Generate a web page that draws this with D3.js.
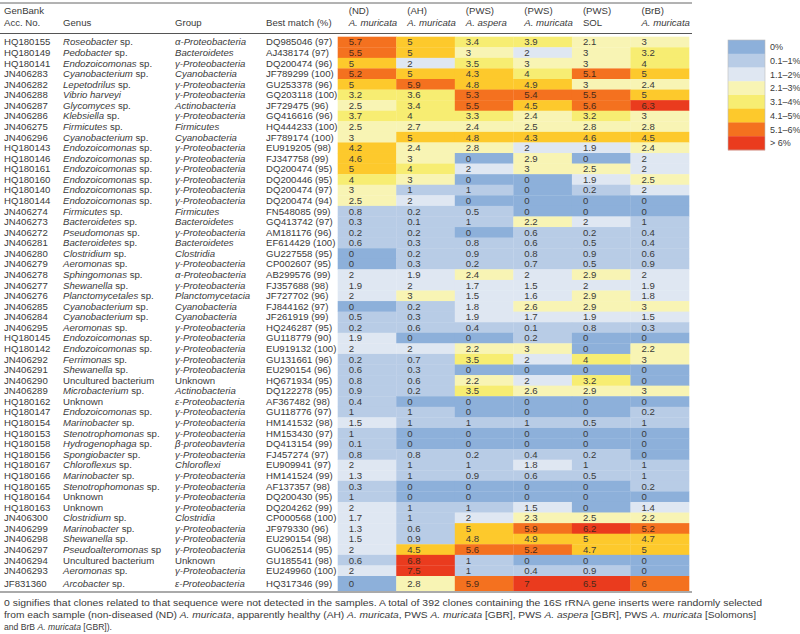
<!DOCTYPE html>
<html><head><meta charset="utf-8">
<script src="https://cdn.jsdelivr.net/npm/d3@7"></script>
<style>body{margin:0;background:#fff}svg{display:block;font-family:"Liberation Sans",Arial,sans-serif}</style>
</head><body><svg id="c" width="800" height="634"></svg>
<script>
const accessions=["HQ180155","HQ180149","HQ180141","JN406283","JN406282","JN406288","JN406287","JN406286","JN406275","JN406296","HQ180143","HQ180146","HQ180161","HQ180160","HQ180140","HQ180144","JN406274","JN406273","JN406272","JN406281","JN406280","JN406279","JN406278","JN406277","JN406276","JN406285","JN406284","JN406295","HQ180145","HQ180142","JN406292","JN406291","JN406290","JN406289","HQ180162","HQ180147","HQ180154","HQ180153","HQ180158","HQ180156","HQ180167","HQ180166","HQ180165","HQ180164","HQ180163","JN406300","JN406299","JN406298","JN406297","JN406294","JN406293","JF831360"];
// genus: [italic part, plain part]
const genera=[["Roseobacter"," sp."],["Pedobacter"," sp."],["Endozoicomonas"," sp."],["Cyanobacterium"," sp."],["Lepetodrilus"," sp."],["Vibrio harveyi",""],["Glycomyces"," sp."],["Klebsiella"," sp."],["Firmicutes"," sp."],["Cyanobacterium"," sp."],["Endozoicomonas"," sp."],["Endozoicomonas"," sp."],["Endozoicomonas"," sp."],["Endozoicomonas"," sp."],["Endozoicomonas"," sp."],["Endozoicomonas"," sp."],["Firmicutes"," sp."],["Bacteroidetes"," sp."],["Pseudomonas"," sp."],["Bacteroidetes"," sp."],["Clostridium"," sp."],["Aeromonas"," sp."],["Sphingomonas"," sp."],["Shewanella"," sp."],["Planctomycetales"," sp."],["Cyanobacterium"," sp."],["Cyanobacterium"," sp."],["Aeromonas"," sp."],["Endozoicomonas"," sp."],["Endozoicomonas"," sp."],["Ferrimonas"," sp."],["Shewanella"," sp."],["","Uncultured bacterium"],["Microbacterium"," sp."],["","Unknown"],["Endozoicomonas"," sp."],["Marinobacter"," sp."],["Stenotrophomonas"," sp."],["Hydrogenophaga"," sp."],["Spongiobacter"," sp."],["Chloroflexus"," sp."],["Marinobacter"," sp."],["Stenotrophomonas"," sp."],["","Unknown"],["","Unknown"],["Clostridium"," sp."],["Marinobacter"," sp."],["Shewanella"," sp."],["Pseudoalteromonas"," sp"],["","Uncultured bacterium"],["Aeromonas"," sp."],["Arcobacter"," sp."]];
const G="γ-Proteobacteria";
const groups=["α-Proteobacteria","Bacteroidetes",G,"Cyanobacteria",G,G,"Actinobacteria",G,"Firmicutes","Cyanobacteria",G,G,G,G,G,G,"Firmicutes","Bacteroidetes",G,"Bacteroidetes","Clostridia",G,"α-Proteobacteria",G,"Planctomycetacia","Cyanobacteria","Cyanobacteria",G,G,G,G,G,"Unknown","Actinobacteria","ε-Proteobacteria",G,G,G,"β-proteobavteria",G,"Chloroflexi",G,G,G,G,"Clostridia",G,G,G,"Unknown",G,"ε-Proteobacteria"];
const bestMatch=["DQ985046 (97)","AJ438174 (97)","DQ200474 (96)","JF789299 (100)","GU253378 (96)","GQ203118 (100)","JF729475 (96)","GQ416616 (96)","HQ444233 (100)","JF789174 (100)","EU919205 (98)","FJ347758 (99)","DQ200474 (95)","DQ200446 (95)","DQ200474 (97)","DQ200474 (94)","FN548085 (99)","GQ413742 (97)","AM181176 (96)","EF614429 (100)","GU227558 (95)","CP002607 (95)","AB299576 (99)","FJ357688 (98)","JF727702 (96)","FJ844162 (97)","JF261919 (99)","HQ246287 (95)","GU118779 (90)","EU919132 (100)","GU131661 (96)","EU290154 (96)","HQ671934 (95)","DQ122278 (95)","AF367482 (98)","GU118776 (97)","HM141532 (98)","HM153430 (97)","DQ413154 (99)","FJ457274 (97)","EU909941 (97)","HM141524 (99)","AF137357 (98)","DQ200430 (95)","DQ204262 (99)","CP000568 (100)","JF979330 (96)","EU290154 (98)","GU062514 (95)","GU185541 (98)","EU249960 (100)","HQ317346 (99)"];
const samples=["ND","AH","PWSasp","PWSmur","SOL","BrB"];
const sampleLine1=["(ND)","(AH)","(PWS)","(PWS)","(PWS)","(BrB)"];
const sampleLine2=[["A. muricata",true],["A. muricata",true],["A. aspera",true],["A. muricata",true],["SOL",false],["A. muricata",true]];
const valND=[5.7,5.5,5,5.2,5,3.2,2.5,3.7,2.5,3,4.2,4.6,5,4,3,2.5,0.8,0.3,0.2,0.6,0,0,2,1.9,2,0,0.5,0.2,1.9,2,0.2,0.6,0.8,0.9,0.4,1,1.5,1,0.1,0.8,2,1.3,0.3,1,2,1.7,1.3,1.5,2,0.6,2,0];
const valAH=[5,5,2,5,5.9,3.6,3.4,4,2.7,5,2.4,3,4,3,1,2,0.2,0.1,0.2,0.3,0.2,0.3,1.9,2,3,0.2,0.3,0.6,0,2,0.7,0.3,0.6,0.2,0,1,1,0,0,0.8,1,1,0,0,1,1,0.6,0.9,4.5,6.8,7.5,2.8];
const valPWSasp=[3.4,3,3.5,4.3,4.8,5.3,5.5,3.3,2.4,4.8,2.8,0,2,0,1,0,0.5,1,0,0.8,0.9,0.2,2.4,1.7,1.5,1.8,1.9,0.4,0,2.2,3.5,0,2.2,3.5,0,0,1,0,0,0.2,1,0.9,0,0,1,2,5,4.8,5.6,1,1,5.9];
const valPWSmur=[3.9,2,3,4,4.9,5.4,4.5,2.4,2.5,4.3,2,2.9,3,0,0,0,0,2.2,0.6,0.6,0.8,0.7,2,1.5,1.6,2.6,1.7,0.1,0.2,3,2,0,2,2.6,0,0,1,0,0,0.4,1.8,0.6,0,0,1.5,2.3,5.9,4.9,5.2,0,0.4,7];
const valSOL=[2.1,3,3,5.1,3,5.5,5.6,3.2,2.8,4.6,1.9,0,2.5,1.9,0.2,0,0,2,0.2,0.5,0.9,0.5,2.9,2,2.9,2.9,1.9,0.8,0,0,4,0,3.2,2.9,0,0,0.5,0,0,0.2,1,0.5,0,0,0,2.5,6.2,5,4.7,0,0.9,6.5];
const valBrB=[3,3.2,4,5,2.4,5,6.3,3,2.8,4.5,2.4,2,2,2.5,2,0,0,1,0.4,0.4,0.6,0.9,2,1.9,1.8,3,1.5,0.3,0,2.2,3,0,0,3,0,0.2,1,0,0,0,1,1,0.2,0,1.4,2.2,5.2,4.7,5,0,0,6];
const legendLabels=["0%","0.1–1%","1.1–2%","2.1–3%","3.1–4%","4.1–5%","5.1–6%","> 6%"];
const binColors=["#8db0da","#b8cce6","#dfe7f2","#f8f4b4","#f7ed72","#fdc92c","#f4711f","#ea3b1e"];

const valuesBySample=[valND,valAH,valPWSasp,valPWSmur,valSOL,valBrB];
const svg=d3.select("#c");
const n=accessions.length;
const color=d3.scaleThreshold().domain([0.05,1.05,2.05,3.05,4.05,5.05,6.05]).range(binColors);
const x=d3.scaleBand().domain(samples).range([337.7,689]).padding(0);
const rowTop=d3.scaleLinear().domain([0,n-1]).range([36.7,576]);
const rowH=i=> i===n-1?15:rowTop(1)-rowTop(0);
const fs=9.6, tc="#3a3a3a";

// rules
svg.append("line").attr("x1",0).attr("x2",692).attr("y1",3).attr("y2",3).attr("stroke","#666").attr("stroke-width",1);
svg.append("line").attr("x1",0).attr("x2",692).attr("y1",33.5).attr("y2",33.5).attr("stroke","#555").attr("stroke-width",1);

// header
const hdr=svg.append("g").attr("font-size",fs).attr("fill",tc);
hdr.append("text").attr("x",4).attr("y",14).text("GenBank");
hdr.append("text").attr("x",4).attr("y",26).text("Acc. No.");
hdr.append("text").attr("x",63).attr("y",26).text("Genus");
hdr.append("text").attr("x",175).attr("y",26).text("Group");
hdr.append("text").attr("x",266).attr("y",26).text("Best match (%)");
samples.forEach((s,j)=>{
  hdr.append("text").attr("x",x(s)+11).attr("y",14).text(sampleLine1[j]);
  hdr.append("text").attr("x",x(s)+11).attr("y",26).attr("font-style",sampleLine2[j][1]?"italic":"normal").text(sampleLine2[j][0]);
});

// cells
const cells=[];
for(let i=0;i<n;i++) samples.forEach((s,j)=>cells.push({i,s,v:valuesBySample[j][i]}));
const cg=svg.append("g");
cg.selectAll("rect").data(cells).join("rect")
  .attr("x",d=>x(d.s)).attr("y",d=>rowTop(d.i)).attr("width",x.bandwidth()+0.3).attr("height",d=>rowH(d.i)+0.3)
  .attr("fill",d=>color(d.v));
cg.selectAll("text").data(cells).join("text")
  .attr("x",d=>x(d.s)+11).attr("y",d=>rowTop(d.i)+rowH(d.i)/2+3.4)
  .attr("font-size",fs).attr("fill",d=>d.v>5.05?"#4a2a1a":tc).text(d=>d.v);

// row labels
const rg=svg.append("g").attr("font-size",fs).attr("fill",tc);
for(let i=0;i<n;i++){
  const yy=rowTop(i)+rowH(i)/2+3.4;
  rg.append("text").attr("x",4).attr("y",yy).text(accessions[i]);
  const t=rg.append("text").attr("x",63).attr("y",yy);
  if(genera[i][0]) t.append("tspan").attr("font-style","italic").text(genera[i][0]);
  if(genera[i][1]) t.append("tspan").text(genera[i][1]);
  rg.append("text").attr("x",175).attr("y",yy).attr("font-style",groups[i]==="Unknown"?"normal":"italic").text(groups[i]);
  rg.append("text").attr("x",266).attr("y",yy).text(bestMatch[i]);
}
svg.append("line").attr("x1",0).attr("x2",692).attr("y1",592).attr("y2",592).attr("stroke","#aaa").attr("stroke-width",2);

// legend
const ly=d3.scaleBand().domain(legendLabels).range([40,150]);
const lg=svg.append("g");
lg.selectAll("rect").data(legendLabels).join("rect")
  .attr("x",728).attr("y",d=>ly(d)).attr("width",37).attr("height",ly.bandwidth()+0.3)
  .attr("fill",(d,k)=>binColors[k]);
lg.append("rect").attr("x",728).attr("y",40).attr("width",37).attr("height",110).attr("fill","none").attr("stroke","#bbb").attr("stroke-width",0.6);
lg.selectAll("text").data(legendLabels).join("text")
  .attr("x",770).attr("y",d=>ly(d)+ly.bandwidth()/2+3.3).attr("font-size",9).attr("fill",tc).text(d=>d);

// footnote
const fg=svg.append("g").attr("font-size",9).attr("fill",tc);
fg.append("text").attr("x",4).attr("y",606).attr("textLength",758).attr("lengthAdjust","spacingAndGlyphs")
  .text("0 signifies that clones related to that sequence were not detected in the samples. A total of 392 clones containing the 16S rRNA gene inserts were randomly selected");
const f2=fg.append("text").attr("x",4).attr("y",618).attr("textLength",752).attr("lengthAdjust","spacingAndGlyphs");
[["from each sample (non-diseased (ND) ",0],["A. muricata",1],[", apparently healthy (AH) ",0],["A. muricata",1],[", PWS ",0],["A. muricata",1],[" [GBR], PWS ",0],["A. aspera",1],[" [GBR], PWS ",0],["A. muricata",1],[" [Solomons]",0]].forEach(p=>f2.append("tspan").attr("font-style",p[1]?"italic":"normal").text(p[0]));
const f3=fg.append("text").attr("x",4).attr("y",630).attr("textLength",108).attr("lengthAdjust","spacingAndGlyphs");
[["and BrB ",0],["A. muricata",1],[" [GBR]).",0]].forEach(p=>f3.append("tspan").attr("font-style",p[1]?"italic":"normal").text(p[0]));
</script></body></html>
